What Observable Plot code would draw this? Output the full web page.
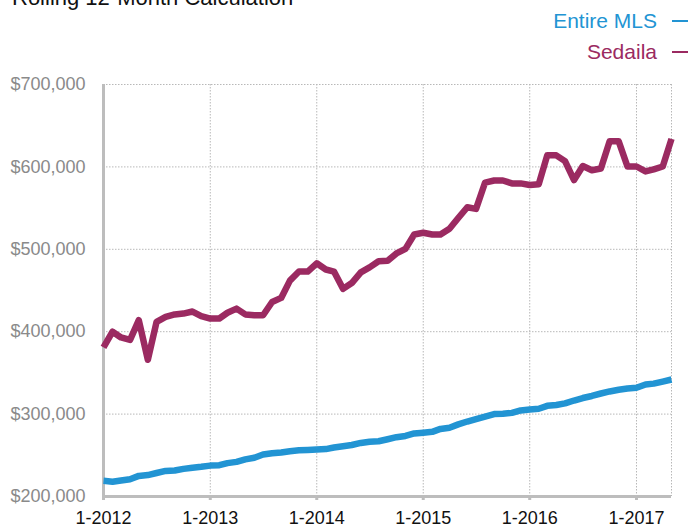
<!DOCTYPE html>
<html>
<head>
<meta charset="utf-8">
<script src="https://cdn.jsdelivr.net/npm/d3@7"></script>
<script src="https://cdn.jsdelivr.net/npm/@observablehq/plot@0.6"></script>
<style>
  html, body { margin: 0; padding: 0; background: #fff; overflow: hidden; }
  #chart svg { display: block; }
</style>
</head>
<body>
<div id="chart"></div>
<script>
// ---- Data (monthly, Jan 2012 – May 2017) ----
const title = "Rolling 12-Month Calculation";
const startYear = 2012;
const seriesNames = ["Entire MLS", "Sedaila"];
const seriesColors = ["#2294d3", "#9b2a61"];

const entireMLS = [
  219000, 218000, 219500, 221000, 225000, 226000, 228500, 231000, 231500, 233500, 235000, 236000,
  237500, 238000, 240500, 242000, 245000, 247000, 251000, 252500, 253500, 255000, 256000, 256500,
  257000, 257500, 259500, 261000, 262500, 265000, 266500, 267000, 269500, 272000, 273500, 276500,
  277500, 278500, 282000, 283500, 287500, 291000, 294000, 297000, 300000, 300500, 301500, 304500,
  305500, 306500, 310000, 311000, 313000, 316500, 319500, 322000, 325000, 327500, 329500, 331000,
  332000, 336000, 337000, 339500, 342000
];
const sedaila = [
  381000, 400000, 393000, 390000, 414000, 366000, 412000, 418000, 421000, 422000, 424500, 419000,
  416000, 416000, 423000, 428000, 421000, 420000, 420000, 436000, 441000, 462000, 473000, 473000,
  483000, 475500, 473000, 452000, 459000, 472000, 478000, 485500, 486000, 495000, 500500, 518000,
  520000, 518000, 518000, 525000, 538000, 551000, 549000, 581000, 583500, 583500, 580000, 580000,
  578000, 579000, 614000, 614000, 607000, 584000, 601000, 596000, 598000, 631000, 631000, 600500,
  600500, 594500, 597000, 600500, 634000
];
const yTicks = [200000, 300000, 400000, 500000, 600000, 700000];
const xTickYears = [2012, 2013, 2014, 2015, 2016, 2017];

// ---- Build table ----
const monthDate = i => new Date(Date.UTC(startYear, i, 1));
const rows = [];
[entireMLS, sedaila].forEach((arr, s) => {
  arr.forEach((v, i) => rows.push({series: seriesNames[s], date: monthDate(i), value: v}));
});
const firstDate = monthDate(0);
const lastDate = monthDate(entireMLS.length - 1);
const xTicks = xTickYears.map(y => new Date(Date.UTC(y, 0, 1)));

const font = "'Liberation Sans', Arial, Helvetica, sans-serif";
const gridStyle = {stroke: "#b8b8b8", strokeOpacity: 1, strokeWidth: 1, strokeDasharray: "1.5,1.5"};

const chart = Plot.plot({
  width: 689,
  height: 527,
  marginLeft: 103,
  marginRight: 18,
  marginTop: 84,
  marginBottom: 31,
  style: {fontFamily: font, fontSize: "18px", background: "#fff", overflow: "visible"},
  x: {type: "utc", domain: [firstDate, lastDate]},
  y: {domain: [200000, 700000]},
  color: {domain: seriesNames, range: seriesColors},
  marks: [
    Plot.gridY(yTicks, gridStyle),
    Plot.gridX(xTicks, gridStyle),
    Plot.ruleX([lastDate], gridStyle),
    Plot.axisY(yTicks, {
      tickSize: 0, tickPadding: 18, fill: "#8a8a8a", fontSize: 18,
      tickFormat: d => "$" + d3.format(",")(d), label: null
    }),
    Plot.axisX(xTicks, {
      tickSize: 4, tickPadding: 11, stroke: "#bdbdbd", strokeWidth: 3,
      fill: "#111", fontSize: 18, tickFormat: d => "1-" + d.getUTCFullYear(), label: null
    }),
    Plot.ruleX([firstDate], {stroke: "#bdbdbd", strokeWidth: 3}),
    Plot.ruleY([200000], {stroke: "#bdbdbd", strokeWidth: 3}),
    Plot.lineY(rows, {
      x: "date", y: "value", z: "series", stroke: "series",
      strokeWidth: 6.5, strokeLinejoin: "round", strokeLinecap: "butt"
    })
  ]
});

// ---- Title and legend (inside the SVG, at the top) ----
const svg = d3.select(chart);
svg.append("text")
  .attr("x", 12).attr("y", 5)
  .attr("text-anchor", "start")
  .attr("font-family", font).attr("font-size", 22).attr("fill", "#111")
  .text(title);

const legendRows = seriesNames.map((name, i) => ({name, color: seriesColors[i], y: 28 + i * 31}));
const lg = svg.append("g");
legendRows.forEach(r => {
  lg.append("text")
    .attr("x", 657).attr("y", r.y)
    .attr("text-anchor", "end")
    .attr("font-family", font).attr("font-size", 21).attr("fill", r.color)
    .text(r.name);
  lg.append("line")
    .attr("x1", 672).attr("x2", 688)
    .attr("y1", r.y - 7).attr("y2", r.y - 7)
    .attr("stroke", r.color).attr("stroke-width", 2);
});

document.getElementById("chart").appendChild(chart);
</script>
</body>
</html>
